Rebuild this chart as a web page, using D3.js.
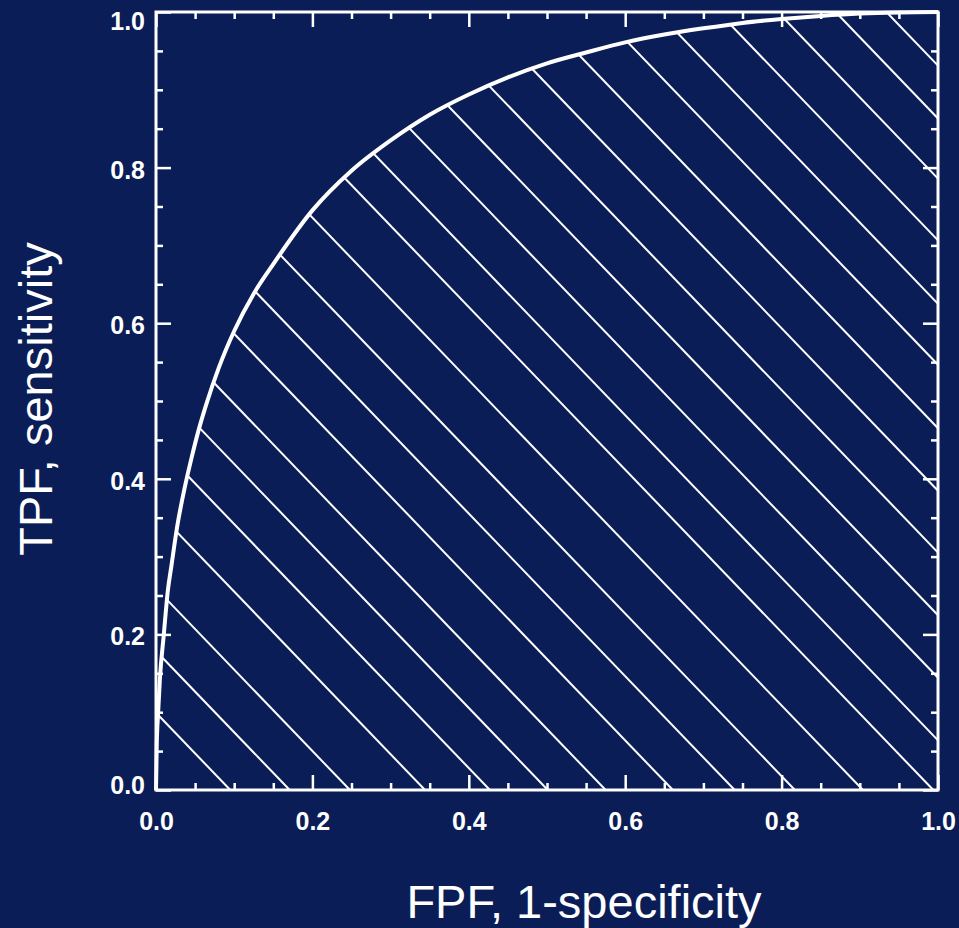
<!DOCTYPE html>
<html>
<head>
<meta charset="utf-8">
<script src="https://cdn.jsdelivr.net/npm/d3@7"></script>
<style>
  html, body { margin: 0; padding: 0; background: #0a1d56; }
  svg { display: block; }
</style>
</head>
<body>
<svg id="chart" width="959" height="928"></svg>
<script>
// ROC curve points: FPF (x) and TPF (y)
const fpf = [0, 0.001, 0.0026, 0.005, 0.01, 0.015, 0.02, 0.027, 0.037, 0.045, 0.056, 0.065, 0.08, 0.1, 0.125, 0.15, 0.2, 0.25, 0.3, 0.35, 0.4, 0.45, 0.5, 0.55, 0.6, 0.65, 0.7, 0.75, 0.8, 0.85, 0.9, 0.95, 1.0];
const tpf = [0, 0.06, 0.097, 0.143, 0.2, 0.255, 0.29, 0.338, 0.39, 0.425, 0.468, 0.498, 0.542, 0.59, 0.638, 0.676, 0.745, 0.796, 0.835, 0.868, 0.894, 0.916, 0.934, 0.948, 0.961, 0.971, 0.979, 0.986, 0.991, 0.995, 0.998, 0.9995, 1.0];

// Hatch lines: FPF where each line crosses TPF = 0 (extended), and their slope in data units
const hatchIntercepts = [0.095, 0.171, 0.248, 0.344, 0.427, 0.501, 0.575, 0.661, 0.740, 0.817, 0.904, 0.994, 1.061, 1.138, 1.215, 1.292, 1.368, 1.445, 1.523, 1.598, 1.676, 1.752, 1.826, 1.891];
const hatchSlope = -1.045;

const majorTicks = [0, 0.2, 0.4, 0.6, 0.8, 1.0];
const minorTicks = [0.05, 0.1, 0.15, 0.25, 0.3, 0.35, 0.45, 0.5, 0.55, 0.65, 0.7, 0.75, 0.85, 0.9, 0.95];
const tickLabels = ["0.0", "0.2", "0.4", "0.6", "0.8", "1.0"];

const xTitle = "FPF, 1-specificity";
const yTitle = "TPF, sensitivity";

const svg = d3.select("#chart");
const pLeft = 156, pRight = 938, pTop = 12, pBottom = 790;

const x = d3.scaleLinear().domain([0, 1]).range([pLeft, pRight]);
const y = d3.scaleLinear().domain([0, 1]).range([pBottom, pTop]);

const pts = fpf.map((d, i) => [d, tpf[i]]);

// clip path: area under the curve
const area = d3.area().x(d => x(d[0])).y0(y(0)).y1(d => y(d[1])).curve(d3.curveMonotoneX);
svg.append("defs").append("clipPath").attr("id", "under")
  .append("path").attr("d", area(pts));

// hatching
svg.append("g").attr("clip-path", "url(#under)")
  .selectAll("line").data(hatchIntercepts).join("line")
  .attr("x1", d => x(d)).attr("y1", y(0))
  .attr("x2", d => x(d + 1 / hatchSlope)).attr("y2", y(1))
  .attr("stroke", "#fff").attr("stroke-width", 2);

// axes
const font = "'Liberation Sans', Arial, sans-serif";
const fmt = (d) => tickLabels[majorTicks.indexOf(d)];

function styleAxis(g) {
  g.select(".domain").remove();
  g.selectAll(".tick line").attr("stroke", "#fff").attr("stroke-width", 2.5);
  g.selectAll("text").attr("fill", "#fff").attr("font-family", font)
    .attr("font-weight", "bold").attr("font-size", 25);
}

// bottom
svg.append("g").attr("transform", `translate(0,${pBottom})`)
  .call(d3.axisBottom(x).tickValues(majorTicks).tickFormat(fmt).tickSize(-15).tickPadding(22))
  .call(styleAxis);
svg.append("g").attr("transform", `translate(0,${pBottom})`)
  .call(d3.axisBottom(x).tickValues(minorTicks).tickFormat("").tickSize(-7))
  .call(styleAxis);
// top
svg.append("g").attr("transform", `translate(0,${pTop})`)
  .call(d3.axisTop(x).tickValues(majorTicks).tickFormat("").tickSize(-15))
  .call(styleAxis);
svg.append("g").attr("transform", `translate(0,${pTop})`)
  .call(d3.axisTop(x).tickValues(minorTicks).tickFormat("").tickSize(-7))
  .call(styleAxis);
// left
const gl = svg.append("g").attr("transform", `translate(${pLeft},0)`)
  .call(d3.axisLeft(y).tickValues(majorTicks).tickFormat(fmt).tickSize(-15).tickPadding(11))
  .call(styleAxis);
gl.selectAll(".tick text").attr("dy", d => d === 1 ? "0.7em" : (d === 0 ? "0.12em" : "0.42em"));
svg.append("g").attr("transform", `translate(${pLeft},0)`)
  .call(d3.axisLeft(y).tickValues(minorTicks).tickFormat("").tickSize(-7))
  .call(styleAxis);
// right
svg.append("g").attr("transform", `translate(${pRight},0)`)
  .call(d3.axisRight(y).tickValues(majorTicks).tickFormat("").tickSize(-15))
  .call(styleAxis);
svg.append("g").attr("transform", `translate(${pRight},0)`)
  .call(d3.axisRight(y).tickValues(minorTicks).tickFormat("").tickSize(-7))
  .call(styleAxis);

// frame
svg.append("rect").attr("x", pLeft).attr("y", pTop)
  .attr("width", pRight - pLeft).attr("height", pBottom - pTop)
  .attr("fill", "none").attr("stroke", "#fff").attr("stroke-width", 3);

// ROC curve
const line = d3.line().x(d => x(d[0])).y(d => y(d[1])).curve(d3.curveMonotoneX);
svg.append("path").attr("d", line(pts))
  .attr("fill", "none").attr("stroke", "#fff").attr("stroke-width", 4);

// titles
svg.append("text").attr("x", 584).attr("y", 918).attr("text-anchor", "middle")
  .attr("fill", "#fff").attr("font-family", font).attr("font-size", 47).text(xTitle);
svg.append("text").attr("transform", "translate(52,399) rotate(-90)").attr("text-anchor", "middle")
  .attr("fill", "#fff").attr("font-family", font).attr("font-size", 47).text(yTitle);
</script>
</body>
</html>
